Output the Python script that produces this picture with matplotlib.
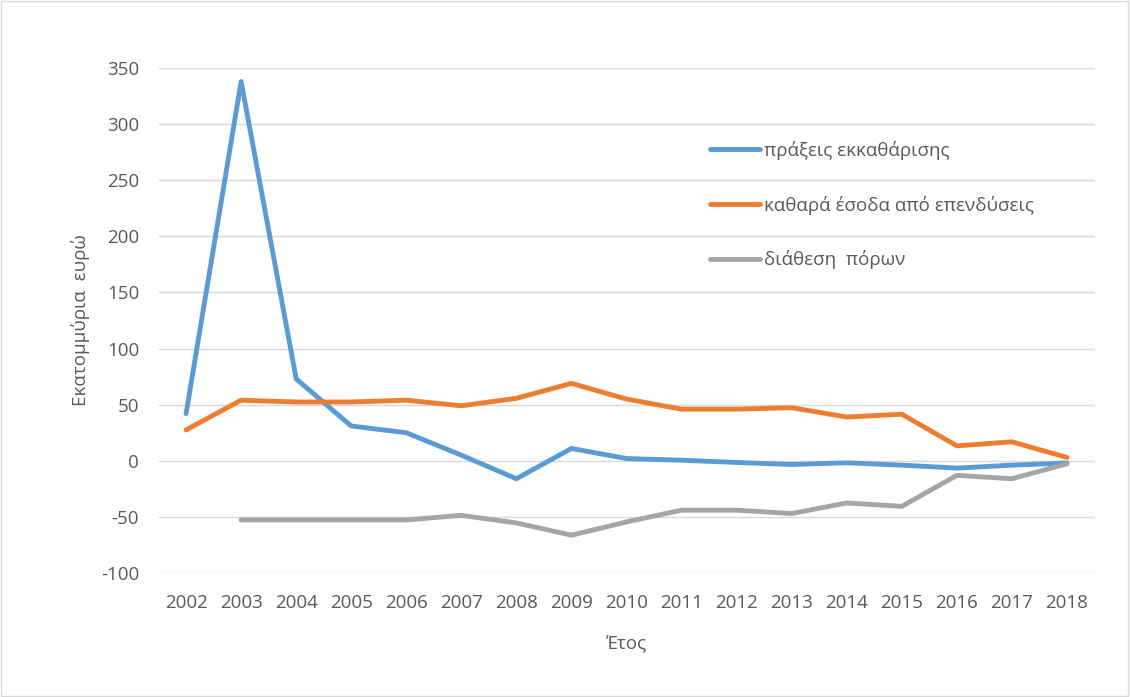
import matplotlib
matplotlib.use('Agg')
import matplotlib.pyplot as plt
from matplotlib.patches import Rectangle
import numpy as np

# data (million euro)
years = ['2002', '2003', '2004', '2005', '2006', '2007', '2008', '2009', '2010',
         '2011', '2012', '2013', '2014', '2015', '2016', '2017', '2018']
liquidation = [42, 338, 73, 31, 25, 5, -16, 11, 2,
               0.5, -1.5, -3.3, -1.8, -3.9, -6.5, -3.9, -2]
net_income = [27.5, 54, 52.4, 52.4, 54, 49, 55.7, 69, 55,
              46, 46, 47.3, 39, 41.5, 13.3, 16.9, 3]
disposal = [np.nan, -52.7, -52.7, -52.7, -52.7, -48.6, -55.4, -66.3, -54.5,
            -44, -44, -47, -37.6, -40.6, -13, -16, -2.7]

labels = ['πράξεις εκκαθάρισης', 'καθαρά έσοδα από επενδύσεις', 'διάθεση  πόρων']
colors = ['#5b9bd5', '#ed7d31', '#a5a5a5']

plt.rcParams['font.family'] = ['Open Sans', 'DejaVu Sans']
plt.rcParams['axes.unicode_minus'] = False
txt = '#595959'

fig = plt.figure(figsize=(11.3, 6.97), dpi=100)
fig.patches.append(Rectangle((0.001, 0.001), 0.997, 0.997, transform=fig.transFigure,
                             fill=False, edgecolor='#d9d9d9', linewidth=1))
ax = fig.add_axes([0.1403, 0.1779, 0.8283, 0.7245])

x = np.arange(len(years))
for vals, lab, c in zip([liquidation, net_income, disposal], labels, colors):
    ax.plot(x, vals, color=c, linewidth=3.5, label=lab, solid_capstyle='round',
            solid_joinstyle='round')

ax.set_xlim(-0.5, len(years) - 0.5)
ax.set_ylim(-100, 350)
ax.set_yticks(np.arange(-100, 351, 50))
ax.set_xticks(x)
ax.set_xticklabels(years)
ax.grid(axis='y', color='#d9d9d9', linewidth=1)
ax.set_axisbelow(True)
for s in ax.spines.values():
    s.set_visible(False)
ax.tick_params(axis='both', length=0, labelsize=13.5, labelcolor=txt)
ax.tick_params(axis='y', pad=14)
ax.tick_params(axis='x', pad=15)

ax.set_xlabel('Έτος', fontsize=13.5, color=txt, labelpad=16)
ax.set_ylabel('Εκατομμύρια  ευρώ', fontsize=13.5, color=txt, labelpad=8)

ax.legend(loc='upper left', bbox_to_anchor=(0.579, 0.874), frameon=False,
          fontsize=13.5, labelcolor=txt, handlelength=2.7, handletextpad=0.2,
          labelspacing=1.9, borderpad=0)

plt.savefig('out.png', dpi=100)
